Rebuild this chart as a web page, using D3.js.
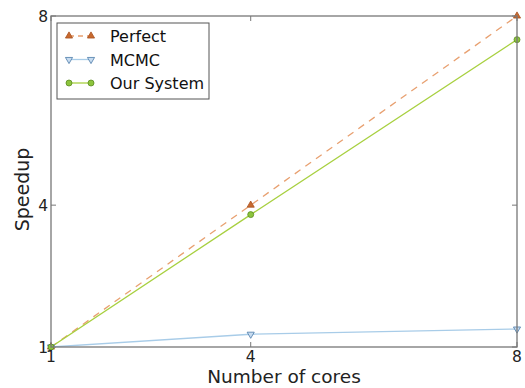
<!DOCTYPE html>
<html><head><meta charset="utf-8">
<script src="https://cdn.jsdelivr.net/npm/d3@7"></script>
<style>body{margin:0;background:#fff;} svg{display:block;font-family:"DejaVu Sans",sans-serif;}</style>
</head><body>
<svg id="c" width="525" height="388"></svg>
<script>
const cores = [1, 4, 8];
const perfect = [1, 4, 8];
const mcmc = [1, 1.27, 1.38];
const ourSystem = [1, 3.8, 7.5];
const xTicks = [1, 4, 8];
const yTicks = [1, 4, 8];

const svg = d3.select("#c");
const m = {l: 51, r: 517, t: 16, b: 347};
const x = d3.scaleLinear().domain([1, 8]).range([m.l, m.r]);
const y = d3.scaleLinear().domain([1, 8]).range([m.b, m.t]);

const g = svg.append("g");
xTicks.forEach(t => {
  g.append("line").attr("x1", x(t)).attr("x2", x(t)).attr("y1", m.b).attr("y2", m.b - 5).attr("stroke", "#777");
  g.append("line").attr("x1", x(t)).attr("x2", x(t)).attr("y1", m.t).attr("y2", m.t + 5).attr("stroke", "#777");
});
yTicks.forEach(t => {
  g.append("line").attr("x1", m.l).attr("x2", m.l + 5).attr("y1", y(t)).attr("y2", y(t)).attr("stroke", "#777");
  g.append("line").attr("x1", m.r).attr("x2", m.r - 5).attr("y1", y(t)).attr("y2", y(t)).attr("stroke", "#777");
});

const series = [
  {name: "Perfect", vals: perfect, line: "#e8a070", dash: "7,6", marker: "up", fill: "#c8692e", stroke: "#a85020"},
  {name: "MCMC", vals: mcmc, line: "#a8cce8", dash: null, marker: "down", fill: "#c8dcf0", stroke: "#4a7aa8"},
  {name: "Our System", vals: ourSystem, line: "#a8d040", dash: null, marker: "circle", fill: "#8cc43c", stroke: "#5a8a20"}
];

const line = d3.line().x((d, i) => x(cores[i])).y(d => y(d));
svg.append("clipPath").attr("id", "cl").append("rect")
  .attr("x", m.l).attr("y", m.t).attr("width", m.r - m.l).attr("height", m.b - m.t);

function drawMarker(sel, type, cx, cy, s) {
  if (type === "circle") {
    sel.append("circle").attr("cx", cx).attr("cy", cy).attr("r", 3)
      .attr("fill", s.fill).attr("stroke", s.stroke).attr("stroke-width", 0.8);
  } else {
    const sym = d3.symbol().type(d3.symbolTriangle).size(22);
    sel.append("path").attr("d", sym())
      .attr("transform", `translate(${cx},${cy}) rotate(${type === "down" ? 180 : 0})`)
      .attr("fill", s.fill).attr("stroke", s.stroke).attr("stroke-width", 0.8);
  }
}

series.forEach(s => {
  svg.append("path").datum(s.vals).attr("d", line)
    .attr("fill", "none").attr("stroke", s.line).attr("stroke-width", 1.3)
    .attr("stroke-dasharray", s.dash).attr("clip-path", "url(#cl)");
});
series.forEach(s => {
  s.vals.forEach((v, i) => drawMarker(svg, s.marker, x(cores[i]), y(v), s));
});

svg.append("rect").attr("x", m.l).attr("y", m.t).attr("width", m.r - m.l).attr("height", m.b - m.t)
  .attr("fill", "none").attr("stroke", "#777").attr("stroke-width", 1.3);

xTicks.forEach(t => svg.append("text").attr("x", x(t)).attr("y", m.b + 15)
  .attr("text-anchor", "middle").attr("font-size", 15.5).attr("fill", "#222").text(t));
yTicks.forEach(t => svg.append("text").attr("x", m.l - 3).attr("y", y(t) + 6)
  .attr("text-anchor", "end").attr("font-size", 15.5).attr("fill", "#222").text(t));

svg.append("text").attr("x", (m.l + m.r) / 2).attr("y", 383).attr("text-anchor", "middle")
  .attr("font-size", 18.5).attr("fill", "#222").text("Number of cores");
svg.append("text").attr("transform", `translate(29,${(m.t + m.b) / 2 + 8}) rotate(-90)`)
  .attr("text-anchor", "middle").attr("font-size", 19).attr("fill", "#222").text("Speedup");

const lg = svg.append("g");
lg.append("rect").attr("x", 57).attr("y", 23).attr("width", 152).attr("height", 76)
  .attr("fill", "#fff").attr("stroke", "#555").attr("stroke-width", 1);
series.forEach((s, i) => {
  const yy = 36 + i * 23.5;
  lg.append("line").attr("x1", 69).attr("x2", 91).attr("y1", yy).attr("y2", yy)
    .attr("stroke", s.line).attr("stroke-width", 1.3).attr("stroke-dasharray", s.dash ? "5,4" : null);
  drawMarker(lg, s.marker, 69, yy, s);
  drawMarker(lg, s.marker, 91, yy, s);
  lg.append("text").attr("x", 110).attr("y", yy + 6).attr("font-size", 16).attr("fill", "#111").text(s.name);
});
</script>
</body></html>
